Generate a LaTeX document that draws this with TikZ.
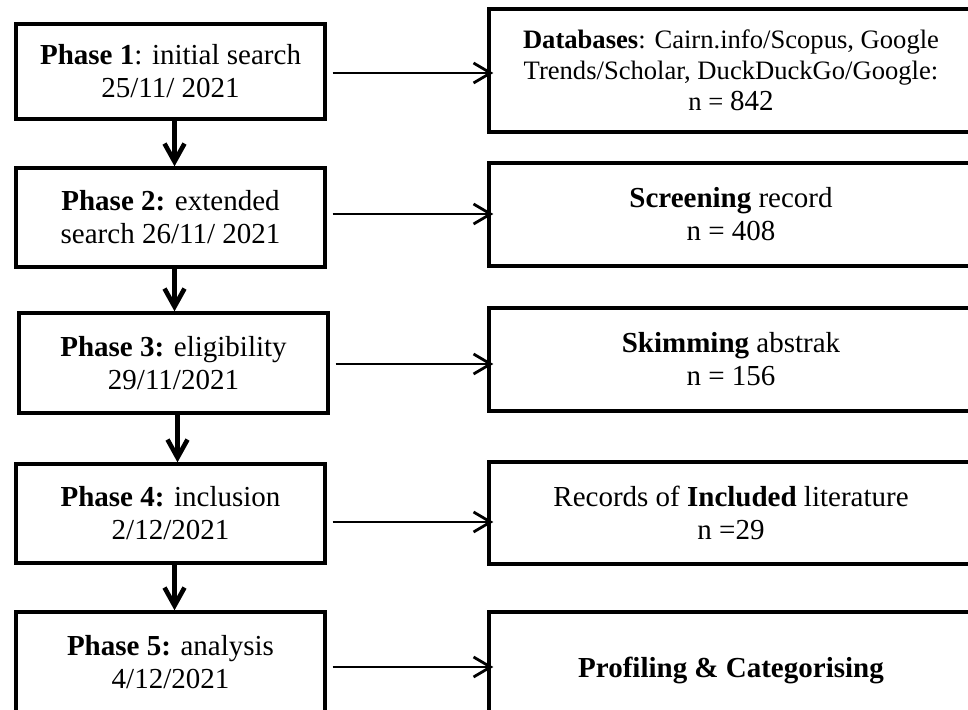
\documentclass[tikz,border=0pt]{standalone}
\usepackage{fontspec}
\setmainfont{Liberation Serif}
\usetikzlibrary{arrows.meta,positioning}
\begin{document}
\begin{tikzpicture}[x=0.5pt,y=-0.5pt,every node/.style={font=\fontsize{14.5}{16.5}\selectfont},
  phase/.style={draw,line width=1.7pt,minimum width=154.5pt,minimum height=49.5pt,align=center,inner sep=0pt},
  result/.style={draw,line width=1.7pt,minimum width=242pt,minimum height=51.5pt,align=center,inner sep=0pt},
  down/.style={line width=2.3pt,-{Straight Barb[length=9pt,width=10pt]}},
  across/.style={line width=1.4pt,-{Straight Barb[length=8.5pt,width=10pt]}}]
\useasboundingbox (0,0) rectangle (968,710);
% phases
\node[phase,minimum height=47.5pt] (p1) at (170.5,71.5) {\textbf{Phase 1}: initial search\\25/11/ 2021};
\node[phase] (p2) at (170.5,217.5) {\textbf{Phase 2:} extended\\search 26/11/ 2021};
\node[phase,minimum height=50pt] (p3) at (173.5,363) {\textbf{Phase 3:} eligibility\\29/11/2021};
\node[phase] (p4) at (170.5,513.5) {\textbf{Phase 4:} inclusion\\2/12/2021};
\node[phase,minimum height=50pt] (p5) at (170.5,662) {\textbf{Phase 5:} analysis\\4/12/2021};
% results
\node[result,minimum height=61.5pt,font=\fontsize{13.3}{15.5}\selectfont] (r1) at (731,70.5) {\textbf{Databases}: Cairn.info/Scopus, Google\\Trends/Scholar, DuckDuckGo/Google:\\n = {\fontsize{14.5}{15.5}\selectfont 842}};
\node[result] (r2) at (731,214.5) {\textbf{Screening} record\\n = 408};
\node[result] (r3) at (731,359.5) {\textbf{Skimming} abstrak\\n = 156};
\node[result,minimum height=51pt] (r4) at (731,513) {Records of \textbf{Included} literature\\n =29};
\node[result,minimum height=58pt] (r5) at (731,670) {\textbf{Profiling \& Categorising}};
% arrows
\foreach \a/\b in {1/2,2/3,3/4,4/5}
  \draw[down] ([xshift=2pt]p\a.south) -- ([xshift=2pt]p\a.south |- p\b.north);
\foreach \i/\s in {1/-0.75,2/1.75,3/-0.5,4/-4.25,5/-2.5}
  \draw[across] ([xshift=3pt,yshift=\s pt]p\i.east) -- ([xshift=3pt,yshift=\s pt]p\i.east -| r\i.west);
\end{tikzpicture}
\end{document}
